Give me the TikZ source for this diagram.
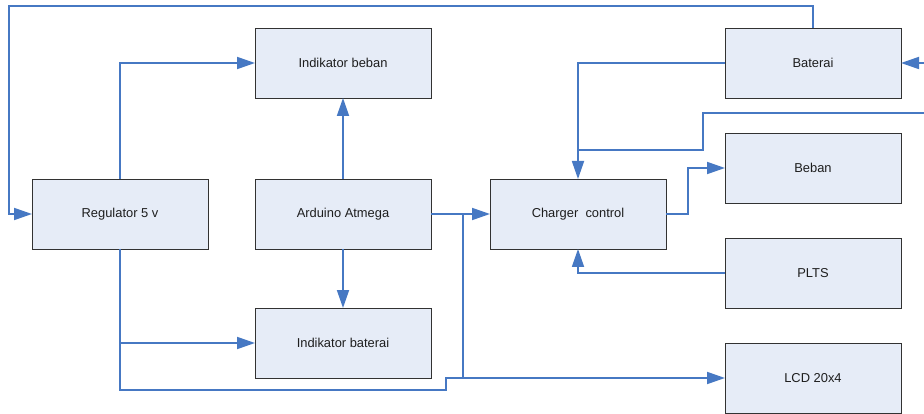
\documentclass[tikz,border=0pt]{standalone}
\usepackage{fontspec}
\setmainfont{Liberation Sans}
\usetikzlibrary{arrows.meta}
\definecolor{wire}{RGB}{70,120,195}
\definecolor{boxfill}{RGB}{230,236,247}
\definecolor{boxline}{RGB}{50,50,50}
\definecolor{ink}{RGB}{30,30,30}
\begin{document}
\begin{tikzpicture}[x=1pt,y=-1pt,
  block/.style={draw=boxline,line width=0.9pt,fill=boxfill,minimum width=176pt,minimum height=70pt,
    inner sep=0pt,outer sep=0pt,text=ink,font=\fontsize{12.9}{15}\selectfont},
  wireline/.style={draw=wire,line width=1.8pt},
  arr/.style={wireline,-{Triangle[length=18pt,width=12pt]}}]
\useasboundingbox (0,0) rectangle (924,414);
\fill[white] (0,0) rectangle (924,414);

% blocks
\node[block] (ib)   at (343,63)  {Indikator beban};
\node[block] (ard)  at (343,214) {Arduino Atmega};
\node[block] (ibat) at (343,343) {Indikator baterai};
\node[block] (reg)  at (120,214) {Regulator 5 v};
\node[block] (cc)   at (578,214) {Charger\ \ control};
\node[block] (bat)  at (813,63)  {Baterai};
\node[block] (beb)  at (813,168) {Beban};
\node[block] (plts) at (813,273) {PLTS};
\node[block] (lcd)  at (813,378) {LCD 20x4};

% routing points
\coordinate (tl) at (9,6);
\coordinate (st) at (446,390);
\coordinate (jx) at (463,0);
\coordinate (kx) at (688,0);
\coordinate (bend) at (703,150);
\coordinate (inA) at (924,113);
\coordinate (inB) at (924,63);

% connectors
\draw[arr] (bat.north) |- (tl) |- (reg.west);
\draw[arr] (reg.north) |- (ib.west);
\draw[arr] (reg.south) |- (ibat.west);
\draw[arr] (reg.south) |- (st) |- (lcd.west);
\draw[arr] (ard.north) -- (ib.south);
\draw[arr] (ard.south) -- (ibat.north);
\draw[arr] (ard.east) -- (cc.west);
\draw[wireline] (ard.east) -| (jx |- lcd.west);
\draw[arr] (bat.west) -| (cc.north);
\draw[wireline] (inA) -| (bend) -- (bend -| cc.north);
\draw[arr] (inB) -- (bat.east);
\draw[arr] (cc.east) -| (kx |- beb.west) -- (beb.west);
\draw[arr] (plts.west) -| (cc.south);
\end{tikzpicture}
\end{document}
